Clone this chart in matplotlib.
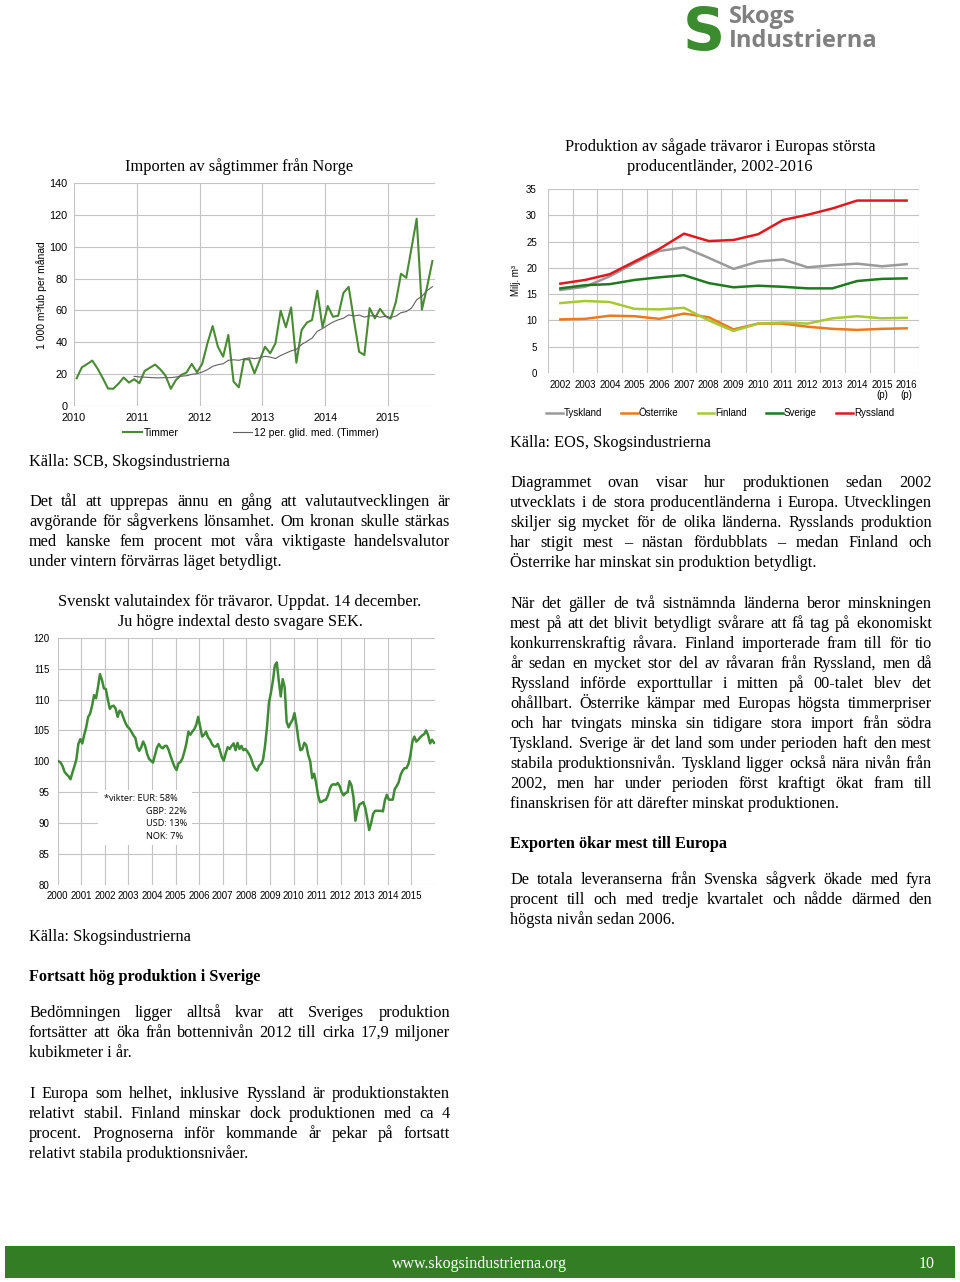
import matplotlib
matplotlib.use("Agg")
import matplotlib.pyplot as plt
from matplotlib.lines import Line2D
from matplotlib.patches import Rectangle
import numpy as np

W, H = 960, 1282
SERIF = "Liberation Serif"
SANS = "Liberation Sans"
BODY = 11.7

# --- Importen av sågtimmer från Norge (monthly, Jan 2010 - Sep 2015) ---
timmer = [17.4, 24.3, 26.3, 28.5, 23.5, 17.5, 11.0, 10.8, 14.0, 17.9, 14.7, 16.8,
          14.3, 22.0, 24.0, 26.0, 23.0, 19.0, 10.8, 16.4, 19.5, 21.0, 26.4, 21.2,
          26.4, 39.3, 50.2, 37.2, 31.0, 44.6, 15.3, 11.7, 29.3, 29.3, 20.5, 28.9,
          37.2, 33.1, 39.3, 59.8, 49.4, 61.9, 27.2, 47.7, 52.3, 54.0, 72.4, 49.4,
          62.8, 56.0, 56.7, 71.0, 74.8, 54.0, 34.0, 32.0, 61.5, 55.0, 61.0, 56.5,
          54.8, 65.0, 83.0, 80.5, 99.0, 117.6, 60.5, 75.0, 91.0]
# 12 per. glid. med., from Dec 2010
glid_med = [18.6, 18.3, 18.1, 17.9, 17.7, 17.7, 17.8, 17.8, 18.2, 18.7, 19.0, 19.9,
            20.3, 21.3, 22.8, 24.9, 25.9, 26.5, 28.7, 29.0, 28.7, 29.5, 30.2, 29.7,
            30.3, 31.2, 30.7, 29.8, 31.7, 33.2, 34.6, 35.6, 38.6, 40.6, 42.6, 46.9,
            48.6, 50.8, 52.7, 54.1, 55.1, 57.2, 56.5, 57.1, 55.8, 56.6, 56.6, 55.7,
            56.3, 55.6, 56.4, 58.6, 59.3, 61.4, 66.7, 68.9, 72.5, 74.9]
imp_years = [2010, 2011, 2012, 2013, 2014, 2015]

# --- Produktion av sågade trävaror ---
prod_years = ["2002", "2003", "2004", "2005", "2006", "2007", "2008", "2009",
              "2010", "2011", "2012", "2013", "2014", "2015\n(p)", "2016\n(p)"]
tyskland = [15.8, 16.4, 18.4, 20.9, 23.2, 23.9, 21.9, 19.8, 21.2, 21.6, 20.1, 20.5, 20.8, 20.3, 20.7]
osterrike = [10.2, 10.3, 10.9, 10.8, 10.3, 11.3, 10.6, 8.3, 9.4, 9.4, 8.8, 8.4, 8.2, 8.4, 8.5]
finland = [13.3, 13.7, 13.5, 12.2, 12.1, 12.4, 10.0, 8.0, 9.4, 9.6, 9.4, 10.4, 10.8, 10.4, 10.5]
sverige = [16.1, 16.7, 16.9, 17.7, 18.2, 18.6, 17.1, 16.3, 16.6, 16.4, 16.1, 16.1, 17.5, 17.9, 18.0]
ryssland = [17.0, 17.7, 18.8, 21.2, 23.6, 26.5, 25.1, 25.3, 26.4, 29.1, 30.1, 31.3, 32.8, 32.8, 32.8]

# --- Svenskt valutaindex för trävaror (monthly 2000-2015) ---
valutaindex = [100.0, 99.8, 99.2, 98.3, 97.9, 97.6, 97.1, 98.2, 99.2, 100.3, 102.8, 103.6,
               102.9, 104.3, 105.5, 107.2, 107.7, 109.0, 110.7, 110.2, 112.0, 114.1, 113.2, 111.8,
               111.7, 110.0, 108.5, 108.9, 109.0, 108.5, 107.2, 108.2, 107.9, 107.0, 106.2, 105.6,
               105.3, 104.8, 104.2, 103.8, 102.3, 101.7, 102.3, 103.2, 102.5, 101.2, 100.4, 100.1,
               99.8, 101.0, 102.2, 102.8, 102.3, 102.1, 102.5, 102.5, 101.8, 100.8, 99.9, 99.1,
               98.6, 99.7, 99.9, 100.5, 101.6, 102.9, 104.8, 104.3, 104.8, 105.2, 105.9, 107.2,
               105.6, 104.0, 104.3, 104.8, 103.9, 103.5, 102.8, 102.4, 102.4, 102.8, 101.8, 100.7,
               100.1, 101.3, 102.3, 102.0, 102.5, 102.9, 101.8, 103.0, 102.0, 102.5, 101.8, 102.0,
               101.6, 101.1, 100.4, 99.4, 98.8, 98.5, 99.3, 99.6, 100.3, 102.5, 105.5, 109.5,
               111.1, 113.0, 115.5, 116.0, 113.0, 110.5, 113.3, 112.0, 106.4, 105.5, 106.2, 106.7,
               107.8, 105.9, 103.5, 101.8, 102.0, 103.0, 102.6, 101.0, 100.0, 97.3, 98.0, 96.5,
               94.5, 93.4, 93.5, 93.7, 93.8, 94.5, 95.6, 96.2, 96.3, 96.2, 96.5, 96.0,
               95.0, 94.5, 94.9, 95.0, 96.8, 96.1, 94.2, 90.4, 92.0, 93.0, 93.2, 93.4,
               92.5, 90.8, 88.9, 90.0, 91.5, 92.0, 92.0, 92.0, 92.0, 91.9, 93.7, 94.6,
               93.8, 93.8, 93.8, 95.5, 96.0, 96.6, 97.8, 98.5, 98.9, 98.9, 99.6, 101.0,
               103.2, 104.0, 103.2, 103.5, 103.9, 104.2, 104.4, 105.0, 104.2, 102.9, 103.5, 103.0]
val_years = list(range(2000, 2016))

GRID = "#c4c4c4"

fig = plt.figure(figsize=(W / 100, H / 100), dpi=100)
fig.patch.set_facecolor("white")


def px_axes(l, t, r, b):
    return fig.add_axes([l / W, 1 - b / H, (r - l) / W, (b - t) / H])


def ftext(x, y, s, **kw):
    kw.setdefault("family", SERIF)
    kw.setdefault("va", "baseline")
    return fig.text(x / W, 1 - y / H, s, **kw)


def paragraph(x0, x1, y0, lines, size=BODY, dy=20):
    # justified lines, last line left aligned
    r = fig.canvas.get_renderer()
    for i, line in enumerate(lines):
        y = y0 + i * dy
        words = line.split(" ")
        if i == len(lines) - 1 or len(words) == 1:
            ftext(x0, y, line, fontsize=size)
            continue
        objs = [ftext(0, y, w, fontsize=size) for w in words]
        widths = [o.get_window_extent(r).width for o in objs]
        gap = (x1 - x0 - sum(widths)) / (len(words) - 1)
        x = x0
        for o, w in zip(objs, widths):
            o.set_x(x / W)
            x += w + gap


def style_axes(ax, size):
    for s in ax.spines.values():
        s.set_visible(False)
    ax.set_axisbelow(True)
    ax.tick_params(length=0, labelsize=size)
    for lab in ax.get_xticklabels() + ax.get_yticklabels():
        lab.set_family(SANS)


# ---------- logo ----------
ftext(704, 50, "S", ha="center", fontsize=42, weight="bold", color="#3a8c2e", family="DejaVu Sans")
ftext(729, 23, "Skogs", fontsize=17, weight="bold", color="#808080", family="Open Sans")
ftext(729, 47, "Industrierna", fontsize=17, weight="bold", color="#808080", family="Open Sans")

# ---------- chart 1 ----------
ax1 = px_axes(74, 183, 435, 406)
x_t = [imp_years[0] + (i + 0.5) / 12 for i in range(len(timmer))]
x_m = x_t[11:11 + len(glid_med)]
ax1.plot(x_t, timmer, color="#4a8a35", lw=1.5)
ax1.plot(x_m, glid_med, color="#606060", lw=0.8)
ax1.set_xlim(2010, 2015.75)
ax1.set_ylim(0, 140)
ax1.set_yticks(range(0, 141, 20))
ax1.set_xticks(imp_years)
ax1.grid(True, color=GRID, lw=0.8)
style_axes(ax1, 7.8)
ax1.tick_params(axis="y", pad=4.5)
ax1.tick_params(axis="x", pad=5)
ftext(239, 171, "Importen av sågtimmer från Norge", ha="center", fontsize=11.8)
ftext(42, 295, "1 000 m³fub per månad", rotation=90, ha="center", va="center",
      fontsize=7.5, family=SANS)
h1 = [Line2D([], [], color="#4a8a35", lw=1.5), Line2D([], [], color="#606060", lw=0.8)]
fig.legend(h1, ["Timmer", "12 per. glid. med. (Timmer)"], loc="center left",
           bbox_to_anchor=(123 / W, 1 - 433 / H), ncol=2, frameon=False,
           prop={"family": SANS, "size": 7.5}, handlelength=1.8, handletextpad=0.2,
           columnspacing=5.2, borderpad=0, borderaxespad=0)

ftext(29, 466, "Källa: SCB, Skogsindustrierna", fontsize=BODY)
paragraph(29, 450, 506, [
    "Det tål att upprepas ännu en gång att valutautvecklingen är",
    "avgörande för sågverkens lönsamhet. Om kronan skulle stärkas",
    "med kanske fem procent mot våra viktigaste handelsvalutor",
    "under vintern förvärras läget betydligt.",
])

# ---------- chart 3 ----------
ax3 = px_axes(57.7, 637.7, 435, 885)
x_v = [val_years[0] + (i + 0.5) / 12 for i in range(len(valutaindex))]
ax3.plot(x_v, valutaindex, color="#3f8a35", lw=1.8)
ax3.set_xlim(2000, 2016)
ax3.set_ylim(80, 120)
ax3.set_yticks(range(80, 121, 5))
ax3.set_xticks(val_years)
ax3.grid(True, color=GRID, lw=0.8)
style_axes(ax3, 7)
ax3.tick_params(axis="y", pad=6)
ax3.tick_params(axis="x", pad=4)
ax3.add_patch(Rectangle((0.107, 0.162), 0.249, 0.222, transform=ax3.transAxes,
                        fc="white", ec="none", zorder=1.5))
ftext(240, 606, "Svenskt valutaindex för trävaror. Uppdat. 14 december.", ha="center", fontsize=11.8)
ftext(240, 626, "Ju högre indextal desto svagare SEK.", ha="center", fontsize=11.8)
ftext(104, 801, "*vikter: EUR: 58%", fontsize=6.6, family="Open Sans")
for i, s in enumerate(["GBP: 22%", "USD: 13%", "NOK: 7%"]):
    ftext(146, 814 + i * 12.5, s, fontsize=6.6, family="Open Sans")
ftext(29, 941, "Källa: Skogsindustrierna", fontsize=BODY)

ftext(29, 981, "Fortsatt hög produktion i Sverige", fontsize=BODY, weight="bold")
paragraph(29, 450, 1017, [
    "Bedömningen ligger alltså kvar att Sveriges produktion",
    "fortsätter att öka från bottennivån 2012 till cirka 17,9 miljoner",
    "kubikmeter i år.",
])
paragraph(29, 450, 1098, [
    "I Europa som helhet, inklusive Ryssland är produktionstakten",
    "relativt stabil. Finland minskar dock produktionen med ca 4",
    "procent. Prognoserna inför kommande år pekar på fortsatt",
    "relativt stabila produktionsnivåer.",
])

# ---------- chart 2 ----------
ax2 = px_axes(548, 189, 919, 373)
xp = np.arange(len(prod_years))
series = [("Tyskland", tyskland, "#9a9a9a"), ("Österrike", osterrike, "#ec7a1c"),
          ("Finland", finland, "#a8c834"), ("Sverige", sverige, "#1f7a1f"),
          ("Ryssland", ryssland, "#e0191e")]
for name, vals, col in series:
    ax2.plot(xp, vals, color=col, lw=1.8, label=name)
ax2.set_xlim(-0.5, len(prod_years) - 0.5)
ax2.set_ylim(0, 35)
ax2.set_yticks(range(0, 36, 5))
ax2.set_xticks(xp)
ax2.set_xticklabels(prod_years, linespacing=1.0)
ax2.set_xticks(np.arange(-0.5, len(prod_years)), minor=True)
ax2.grid(True, axis="y", color=GRID, lw=0.8)
ax2.grid(True, axis="x", which="minor", color=GRID, lw=0.8)
style_axes(ax2, 7)
ax2.tick_params(which="minor", length=0)
ax2.tick_params(axis="y", pad=8)
ax2.tick_params(axis="x", pad=5)
ftext(720, 151, "Produktion av sågade trävaror i Europas största", ha="center", fontsize=11.8)
ftext(720, 171, "producentländer, 2002-2016", ha="center", fontsize=11.8)
ftext(516, 280, "Milj. m³", rotation=90, ha="center", va="center", fontsize=7, family=SANS)
fig.legend(*ax2.get_legend_handles_labels(), loc="center left",
           bbox_to_anchor=(546 / W, 1 - 413 / H), ncol=5, frameon=False,
           prop={"family": SANS, "size": 7}, handlelength=1.7, handletextpad=0.1,
           columnspacing=2.0, borderpad=0, borderaxespad=0)

ftext(510, 447, "Källa: EOS, Skogsindustrierna", fontsize=BODY)
paragraph(510, 932, 487, [
    "Diagrammet ovan visar hur produktionen sedan 2002",
    "utvecklats i de stora producentländerna i Europa. Utvecklingen",
    "skiljer sig mycket för de olika länderna. Rysslands produktion",
    "har stigit mest – nästan fördubblats – medan Finland och",
    "Österrike har minskat sin produktion betydligt.",
])
paragraph(510, 932, 608, [
    "När det gäller de två sistnämnda länderna beror minskningen",
    "mest på att det blivit betydligt svårare att få tag på ekonomiskt",
    "konkurrenskraftig råvara. Finland importerade fram till för tio",
    "år sedan en mycket stor del av råvaran från Ryssland, men då",
    "Ryssland införde exporttullar i mitten på 00-talet blev det",
    "ohållbart. Österrike kämpar med Europas högsta timmerpriser",
    "och har tvingats minska sin tidigare stora import från södra",
    "Tyskland. Sverige är det land som under perioden haft den mest",
    "stabila produktionsnivån. Tyskland ligger också nära nivån från",
    "2002, men har under perioden först kraftigt ökat fram till",
    "finanskrisen för att därefter minskat produktionen.",
])
ftext(510, 848, "Exporten ökar mest till Europa", fontsize=BODY, weight="bold")
paragraph(510, 932, 884, [
    "De totala leveranserna från Svenska sågverk ökade med fyra",
    "procent till och med tredje kvartalet och nådde därmed den",
    "högsta nivån sedan 2006.",
])

# ---------- footer ----------
fig.patches.append(Rectangle((5 / W, 1 - 1278 / H), 950 / W, 32 / H,
                             transform=fig.transFigure, fc="#337d24", ec="none"))
ftext(479, 1268, "www.skogsindustrierna.org", ha="center", fontsize=11.5, color="white")
ftext(927, 1268, "10", ha="center", fontsize=11.5, color="white")

fig.savefig("out.png", dpi=100)
